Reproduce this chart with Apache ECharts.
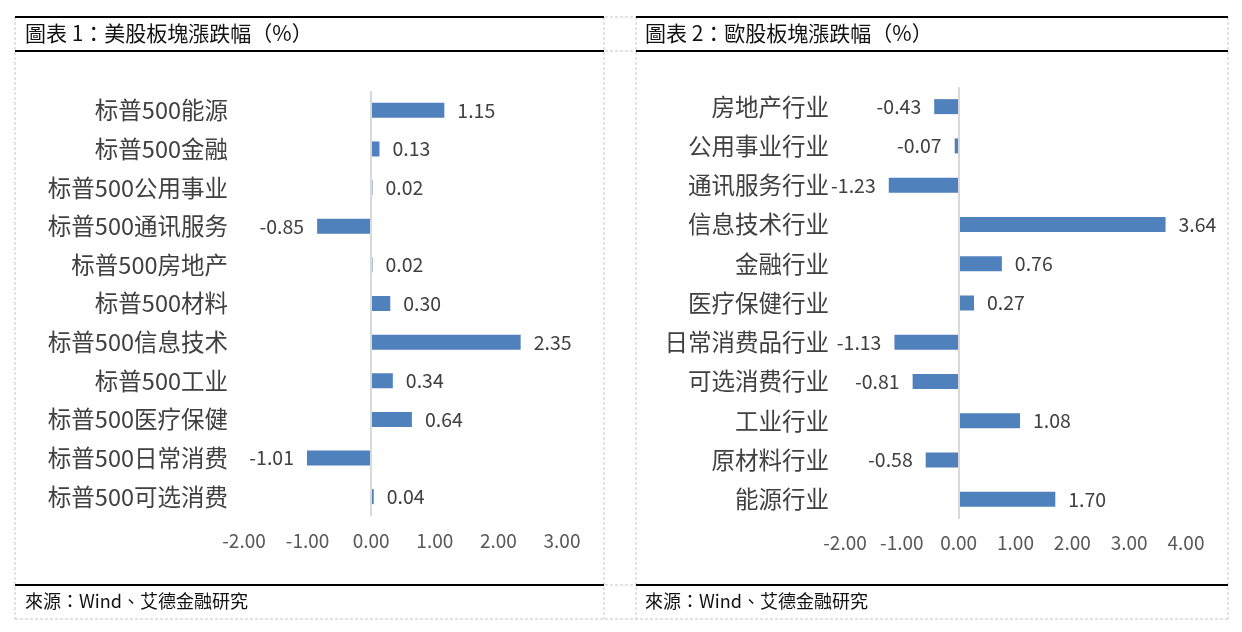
<!DOCTYPE html>
<html>
<head>
<meta charset="utf-8">
<script src="https://cdn.jsdelivr.net/npm/echarts@6/dist/echarts.min.js"></script>
<style>
  html, body { margin: 0; padding: 0; background: #fff; }
  #main { width: 1242px; height: 632px; }
</style>
</head>
<body>
<div id="main"></div>
<script>
// 美股板块（从上到下）
var usCats = ['标普500能源', '标普500金融', '标普500公用事业', '标普500通讯服务', '标普500房地产',
  '标普500材料', '标普500信息技术', '标普500工业', '标普500医疗保健', '标普500日常消费', '标普500可选消费'];
var usVals = [1.15, 0.13, 0.02, -0.85, 0.02, 0.30, 2.35, 0.34, 0.64, -1.01, 0.04];

// 欧股板块（从上到下）
var euCats = ['房地产行业', '公用事业行业', '通讯服务行业', '信息技术行业', '金融行业', '医疗保健行业',
  '日常消费品行业', '可选消费行业', '工业行业', '原材料行业', '能源行业'];
var euVals = [-0.43, -0.07, -1.23, 3.64, 0.76, 0.27, -1.13, -0.81, 1.08, -0.58, 1.70];

var titles = ['圖表 1：美股板塊漲跌幅（%）', '圖表 2：歐股板塊漲跌幅（%）'];
var source = '來源：Wind、艾德金融研究';

var FONT = '"Noto Sans CJK SC", "Noto Sans", sans-serif';
var TFONT = '"Noto Sans CJK TC", "Noto Sans CJK SC", serif';
var BAR = '#4F81BD';

var myChart = echarts.init(document.getElementById('main'));

function toData(vals) {
  return vals.map(function (v) {
    return { value: v, label: { position: v < 0 ? 'left' : 'right' } };
  });
}

function barSeries(idx, vals) {
  return {
    type: 'bar',
    xAxisIndex: idx,
    yAxisIndex: idx,
    barWidth: 15,
    itemStyle: { color: BAR },
    label: {
      show: true,
      distance: 13,
      fontFamily: FONT,
      fontSize: 19.5,
      color: '#404040',
      formatter: function (p) { return p.value.toFixed(2); }
    },
    data: toData(vals),
    markLine: {
      silent: true,
      symbol: ['none', 'none'],
      label: { show: false },
      lineStyle: { color: '#d9d9d9', width: 2, type: 'solid' },
      data: [{ xAxis: 0 }]
    }
  };
}

function valAxis(idx, max, margin) {
  return {
    type: 'value',
    gridIndex: idx,
    min: -2,
    max: max,
    interval: 1,
    axisLine: { show: false },
    axisTick: { show: false },
    splitLine: { show: false },
    axisLabel: {
      margin: margin,
      fontFamily: FONT,
      fontSize: 19,
      color: '#595959',
      formatter: function (v) { return v.toFixed(2); }
    }
  };
}

function catAxis(idx, cats) {
  return {
    type: 'category',
    gridIndex: idx,
    inverse: true,
    data: cats,
    axisLine: { show: false },
    axisTick: { show: false },
    axisLabel: { margin: 16, fontFamily: FONT, fontSize: 23.5, color: '#404040' }
  };
}

// 表格边框
var dash = { stroke: '#c6c6c6', lineWidth: 1, lineDash: [3, 2] };
var solid = { stroke: '#000', lineWidth: 2 };
var gfx = [];
[17, 51, 585, 619].forEach(function (y) {
  gfx.push({ type: 'line', shape: { x1: 15, y1: y, x2: 1228, y2: y }, style: dash, silent: true });
});
[15, 604, 636, 1228].forEach(function (x) {
  gfx.push({ type: 'line', shape: { x1: x, y1: 17, x2: x, y2: 619 }, style: dash, silent: true });
});
[[15, 604], [636, 1228]].forEach(function (p) {
  [17, 51, 585].forEach(function (y) {
    gfx.push({ type: 'line', shape: { x1: p[0], y1: y, x2: p[1], y2: y }, style: solid, silent: true });
  });
});

var tStyle = { fontFamily: TFONT, fontSize: 21, fontWeight: 'normal', color: '#111' };
var sStyle = { fontFamily: TFONT, fontSize: 18, fontWeight: 'normal', color: '#111' };

var option = {
  animation: false,
  backgroundColor: '#fff',
  title: [
    { text: titles[0], left: 25, top: 23, padding: 0, textStyle: tStyle },
    { text: titles[1], left: 645, top: 23, padding: 0, textStyle: tStyle },
    { text: source, left: 25, top: 592, padding: 0, textStyle: sStyle },
    { text: source, left: 645, top: 592, padding: 0, textStyle: sStyle }
  ],
  grid: [
    { left: 244, width: 318, top: 91, height: 425 },
    { left: 845, width: 341, top: 87, height: 432 }
  ],
  xAxis: [valAxis(0, 3, 15), valAxis(1, 4, 14)],
  yAxis: [catAxis(0, usCats), catAxis(1, euCats)],
  series: [barSeries(0, usVals), barSeries(1, euVals)],
  graphic: gfx
};

myChart.setOption(option);
</script>
</body>
</html>
